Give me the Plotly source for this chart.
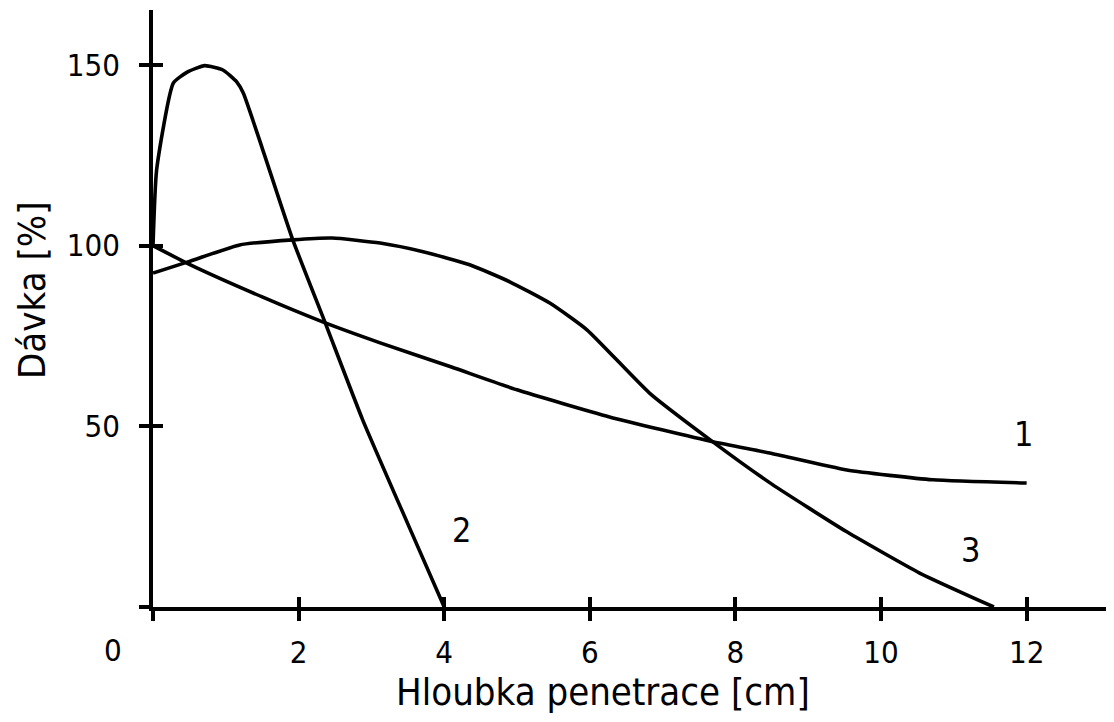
import plotly.graph_objects as go

# Curve 1
x1 = [0, 0.5, 1.5, 2.33, 3.12, 4.1, 5.0, 6.27, 7.69, 8.47, 9.53, 10.71, 12.0]
y1 = [100, 94.8, 85.8, 78.9, 73.1, 66.4, 60.1, 52.6, 45.7, 42.6, 37.9, 35.2, 34.3]

# Curve 2
x2 = [0, 0.05, 0.28, 0.47, 0.71, 0.96, 1.15, 1.24, 1.5, 1.92, 2.36, 2.88, 3.5, 4.0]
y2 = [100, 121, 145, 148, 149.8, 148.6, 145.3, 142.2, 127, 101.6, 78.9, 51.8, 23, 0]

# Curve 3
x3 = [0, 0.48, 1.19, 1.92, 2.46, 3.12, 3.71, 4.35, 4.9, 5.45, 5.96, 6.82, 7.69, 8.5, 9.53, 10.53, 11.55]
y3 = [92.4, 95.5, 100.2, 101.6, 102.1, 100.7, 98.3, 94.7, 90.0, 84.1, 76.7, 59.2, 45.7, 34.0, 20.8, 9.4, 0]

x_ticks = [0, 2, 4, 6, 8, 10, 12]
x_tick_text = ["", "2", "4", "6", "8", "10", "12"]
y_ticks = [0, 50, 100, 150]
y_tick_text = ["", "50", "100", "150"]

curve_labels = ["1", "2", "3"]
label_x = [11.96, 4.24, 11.23]
label_y = [47.9, 21.3, 15.8]

x_title = "Hloubka penetrace [cm]"
y_title = "Dávka [%]"
origin_label = "0"

FONT = "DejaVu Sans Condensed, DejaVu Sans"
X_RANGE = [0, 13.2]
Y_RANGE = [0, 165.2]

# page has an 8px body margin; figure is sized to fit the window
W, H = 1106, 714
L, T, B, R = 145, 2, 115, 0
PW = W - L - R
PH = H - T - B

def px(xp):  # page pixel -> paper x
    return (xp - 8 - L) / PW

def py(yp):  # page pixel -> paper y
    return (H - B - (yp - 8)) / PH

fig = go.Figure()
line_style = dict(color="black", width=3.6, shape="spline", smoothing=0.5)
for xs, ys in [(x1, y1), (x2, y2), (x3, y3)]:
    fig.add_trace(go.Scatter(x=xs, y=ys, mode="lines", line=line_style,
                             showlegend=False, hoverinfo="skip"))

# invisible traces that activate the overlay axes (inner halves of the ticks)
fig.add_trace(go.Scatter(x=x1[:1], y=y1[:1], xaxis="x2", yaxis="y", mode="markers",
                         marker=dict(opacity=0, size=1), showlegend=False, hoverinfo="skip"))
fig.add_trace(go.Scatter(x=x1[:1], y=y1[:1], xaxis="x", yaxis="y2", mode="markers",
                         marker=dict(opacity=0, size=1), showlegend=False, hoverinfo="skip"))

for t, lx, ly in zip(curve_labels, label_x, label_y):
    fig.add_annotation(x=lx, y=ly, xref="x", yref="y", text=t, showarrow=False,
                       font=dict(family=FONT, size=34, color="black"),
                       xanchor="center", yanchor="middle")

fig.add_annotation(x=px(113), y=py(650), xref="paper", yref="paper",
                   text=origin_label, showarrow=False,
                   font=dict(family=FONT, size=31, color="black"),
                   xanchor="center", yanchor="middle")
fig.add_annotation(x=px(603), y=py(692), xref="paper", yref="paper",
                   text=x_title, showarrow=False,
                   font=dict(family=FONT, size=38, color="black"),
                   xanchor="center", yanchor="middle")
fig.add_annotation(x=px(32), y=py(290), xref="paper", yref="paper",
                   text=y_title, showarrow=False, textangle=-90,
                   font=dict(family=FONT, size=38, color="black"),
                   xanchor="center", yanchor="middle")

axis_common = dict(showgrid=False, zeroline=False)
tick_common = dict(ticklen=10, tickwidth=3.5, tickcolor="black")
fig.update_layout(
    width=W, height=H,
    margin=dict(l=L, r=R, t=T, b=B, pad=0),
    plot_bgcolor="white", paper_bgcolor="white",
    xaxis=dict(range=X_RANGE, showline=True, linecolor="black", linewidth=3.5,
               ticks="outside", tickvals=x_ticks, ticktext=x_tick_text, ticklabelstandoff=5,
               tickfont=dict(family=FONT, size=31, color="black"), **tick_common, **axis_common),
    yaxis=dict(range=Y_RANGE, showline=True, linecolor="black", linewidth=3.5,
               ticks="outside", tickvals=y_ticks, ticktext=y_tick_text, ticklabelstandoff=13,
               tickfont=dict(family=FONT, size=31, color="black"), **tick_common, **axis_common),
    xaxis2=dict(range=X_RANGE, overlaying="x", anchor="y", side="bottom",
                ticks="inside", tickvals=x_ticks, showticklabels=False, showline=False,
                **tick_common, **axis_common),
    yaxis2=dict(range=Y_RANGE, overlaying="y", anchor="x", side="left",
                ticks="inside", tickvals=y_ticks, showticklabels=False, showline=False,
                **tick_common, **axis_common),
)

fig.write_html("out.html")
